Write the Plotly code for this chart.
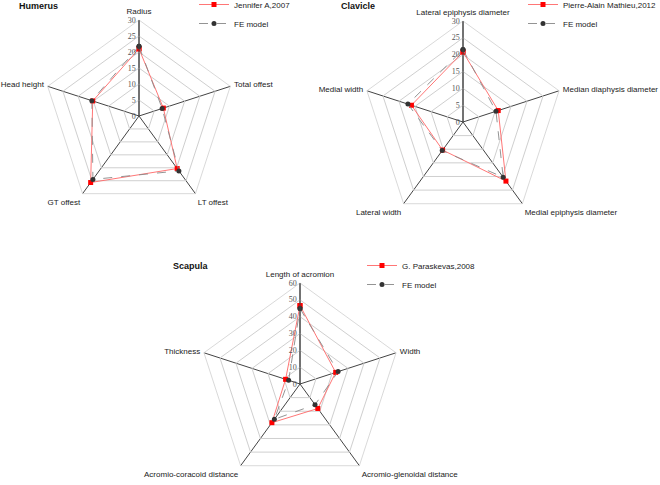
import plotly.graph_objects as go

# ---- data ----
humerus_cats = ["Radius", "Total offest", "LT offest", "GT offest", "Head height"]
humerus_ref = [21.0, 8.0, 20.3, 25.7, 15.2]
humerus_fe = [21.8, 7.6, 21.2, 24.5, 15.5]

clavicle_cats = ["Lateral epiphysis diameter", "Median diaphysis diameter",
                 "Medial epiphysis diameter", "Lateral width", "Medial width"]
clavicle_ref = [20.8, 11.0, 21.7, 10.3, 16.1]
clavicle_fe = [21.5, 10.3, 20.3, 10.5, 17.2]

scapula_cats = ["Length of acromion", "Width", "Acromio-glenoidal distance",
                "Acromio-coracoid distance", "Thickness"]
scapula_ref = [46.6, 22.3, 18.0, 28.4, 9.0]
scapula_fe = [44.8, 23.8, 15.2, 25.9, 7.1]

ref_names = ["Jennifer A,2007", "Pierre-Alain Mathieu,2012", "G. Paraskevas,2008"]
titles = ["Humerus", "Clavicle", "Scapula"]
ranges = [30, 30, 60]
dticks = [5, 5, 10]

SANS = "Arial, Liberation Sans, sans-serif"
SERIF = "Times New Roman, Liberation Serif, serif"

fig = go.Figure()

sets = [(humerus_cats, humerus_ref, humerus_fe),
        (clavicle_cats, clavicle_ref, clavicle_fe),
        (scapula_cats, scapula_ref, scapula_fe)]

polar_keys = ["polar", "polar2", "polar3"]
legend_keys = ["legend", "legend2", "legend3"]

for i, (cats, ref, fe) in enumerate(sets):
    th = cats + cats[:1]
    fig.add_trace(go.Scatterpolar(
        r=ref + ref[:1], theta=th, name=ref_names[i], mode="lines+markers",
        line=dict(color="#ff6666", width=0.9),
        marker=dict(symbol="square", size=5, color="#ff0000"),
        subplot=polar_keys[i], legend=legend_keys[i]))
    fig.add_trace(go.Scatterpolar(
        r=fe + fe[:1], theta=th, name="FE model", mode="lines+markers",
        line=dict(color="#888888", width=0.9, dash="dash"),
        marker=dict(symbol="circle", size=5, color="#333333"),
        subplot=polar_keys[i], legend=legend_keys[i]))

def polar_layout(dx, dy, rmax, dt):
    return dict(
        domain=dict(x=dx, y=dy),
        gridshape="linear",
        bgcolor="white",
        radialaxis=dict(range=[0, rmax], dtick=dt, angle=90, side="counterclockwise",
                        tickangle=90,
                        showline=True, linecolor="#444444", linewidth=1,
                        gridcolor="#cfcfcf", gridwidth=0.8, ticks="",
                        tickfont=dict(family=SERIF, size=8, color="#555555")),
        angularaxis=dict(type="category", direction="clockwise", rotation=90,
                         showline=True, linecolor="#cfcfcf", linewidth=0.8,
                         gridcolor="#444444", gridwidth=1,
                         ticks="outside", ticklen=2, tickcolor="rgba(0,0,0,0)",
                         tickfont=dict(family=SANS, size=8, color="#222222")),
    )

W, H = 660, 485
def dom(cx, cy, r):
    return [(cx - r) / W, (cx + r) / W], [1 - (cy + r) / H, 1 - (cy - r) / H]

d1 = dom(139, 116, 96)
d2 = dom(463, 122, 101)
d3 = dom(300, 384, 101)

leg = dict(font=dict(family=SANS, size=8, color="#222222"), bgcolor="rgba(0,0,0,0)",
           xanchor="left", yanchor="top", tracegroupgap=0, itemwidth=30)

fig.update_layout(
    width=W, height=H, margin=dict(l=0, r=0, t=0, b=0, autoexpand=False),
    paper_bgcolor="white", plot_bgcolor="white",
    polar=polar_layout(*d1, ranges[0], dticks[0]),
    polar2=polar_layout(*d2, ranges[1], dticks[1]),
    polar3=polar_layout(*d3, ranges[2], dticks[2]),
    legend=dict(leg, x=(234 - 40) / W, y=1 + 10 / H),
    legend2=dict(leg, x=(563 - 40) / W, y=1 + 10 / H),
    legend3=dict(leg, x=(402 - 40) / W, y=1 - 251 / H),
    annotations=[
        dict(text="<b>%s</b>" % titles[0], x=17 / W, y=1 - 6 / H, xref="paper", yref="paper",
             xanchor="left", yanchor="middle", showarrow=False,
             font=dict(family=SANS, size=9, color="#111111")),
        dict(text="<b>%s</b>" % titles[1], x=339 / W, y=1 - 6 / H, xref="paper", yref="paper",
             xanchor="left", yanchor="middle", showarrow=False,
             font=dict(family=SANS, size=9, color="#111111")),
        dict(text="<b>%s</b>" % titles[2], x=171 / W, y=1 - 266 / H, xref="paper", yref="paper",
             xanchor="left", yanchor="middle", showarrow=False,
             font=dict(family=SANS, size=9, color="#111111")),
    ],
)

fig.write_html("out.html", config={"displayModeBar": False},
               post_script="document.body.style.margin='0';document.body.style.overflow='hidden';")
